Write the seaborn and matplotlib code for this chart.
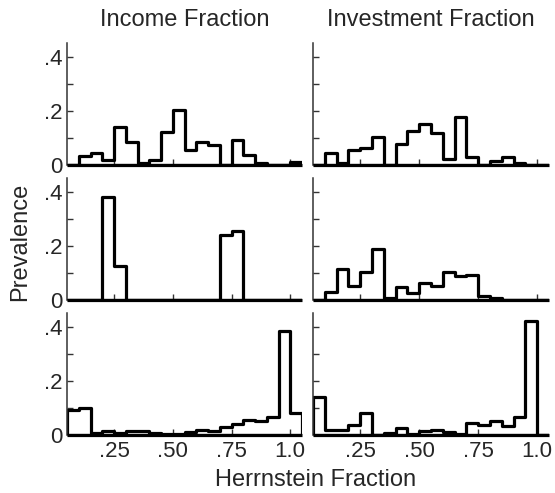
import numpy as np
import pandas as pd
import matplotlib
matplotlib.use("Agg")
import matplotlib.pyplot as plt
import seaborn as sns

# Bin edges of the Herrnstein fraction (width .05)
edges = [round(0.05 + 0.05 * i, 2) for i in range(21)]
centers = [round(0.075 + 0.05 * i, 3) for i in range(20)]

# Prevalence per bin, one array per panel
income_top = [0, .033, .045, .018, .139, .083, .009, .018, .123, .202,
              .055, .083, .074, 0, .092, .037, .009, 0, 0, .012]
invest_top = [0, .043, .009, .055, .061, .102, 0, .076, .125, .153,
              .117, .021, .178, .031, 0, .016, .029, .006, 0, 0]
income_mid = [0, 0, 0, .380, .127, 0, 0, 0, 0, 0,
              0, 0, 0, .238, .253, 0, 0, 0, 0, 0]
invest_mid = [0, .028, .115, .050, .102, .189, .007, .049, .027, .062,
              .050, .105, .090, .093, .016, .007, 0, 0, 0, 0]
income_bot = [.092, .098, .009, .016, .009, .014, .016, .009, .004, .004,
              .012, .020, .014, .031, .041, .055, .053, .068, .383, .080]
invest_bot = [.142, .020, .020, .036, .080, 0, .006, .025, .004, .014,
              .019, .012, .005, .043, .037, .053, .033, .068, .420, 0]

col_titles = ["Income Fraction", "Investment Fraction"]
x_ticks = [0.25, 0.50, 0.75, 1.0]
x_ticklabels = [".25", ".50", ".75", "1.0"]
y_ticks = [0, 0.1, 0.2, 0.3, 0.4]
y_ticklabels = ["0", "", ".2", "", ".4"]

panels = [[income_top, invest_top],
          [income_mid, invest_mid],
          [income_bot, invest_bot]]

sns.set_theme(style="ticks")
plt.rcParams["font.family"] = ["Liberation Sans", "DejaVu Sans"]

W, H = 555, 493
fig = plt.figure(figsize=(W / 100, H / 100), dpi=100)

col_left = [67, 313]
col_width = [235, 236]
row_top = [43, 178, 313]
row_height = 122

for r in range(3):
    for c in range(2):
        ax = fig.add_axes([col_left[c] / W,
                           (H - row_top[r] - row_height) / H,
                           col_width[c] / W,
                           row_height / H])
        df = pd.DataFrame({"fraction": centers, "prevalence": panels[r][c]})
        sns.histplot(data=df, x="fraction", weights="prevalence",
                     bins=edges, element="step", fill=True, color="black",
                     facecolor="none", edgecolor="black", linewidth=2.3,
                     ax=ax)
        ax.set_xlim(0.05, 1.05)
        ax.set_ylim(0, 0.45)
        ax.set_xticks(x_ticks)
        ax.set_yticks(y_ticks)
        ax.set_ylabel("")
        ax.set_xlabel("")
        for s in ["top", "right"]:
            ax.spines[s].set_visible(False)
        # zero line of the histogram drawn as a heavy baseline
        ax.spines["bottom"].set_color("black")
        ax.spines["bottom"].set_linewidth(2.3)
        ax.spines["bottom"].set_capstyle("butt")
        ax.spines["left"].set_color("#333333")
        ax.spines["left"].set_linewidth(1.1)
        ax.tick_params(direction="in", length=4.5, width=1.0,
                       color="#333333", labelsize=16, pad=3)
        ax.tick_params(axis="x", pad=4)
        if r == 2:
            ax.set_xticklabels(x_ticklabels)
        else:
            ax.set_xticklabels([])
        if c == 0:
            ax.set_yticklabels(y_ticklabels)
        else:
            ax.set_yticklabels([])
        if r == 0:
            ax.set_title(col_titles[c], fontsize=17, pad=12)

fig.text(20 / W, (H - 242) / H, "Prevalence", rotation=90,
         ha="center", va="center", fontsize=17)
fig.text(316 / W, (H - 480) / H, "Herrnstein Fraction",
         ha="center", va="center", fontsize=17)

fig.savefig("out.png", dpi=100)
